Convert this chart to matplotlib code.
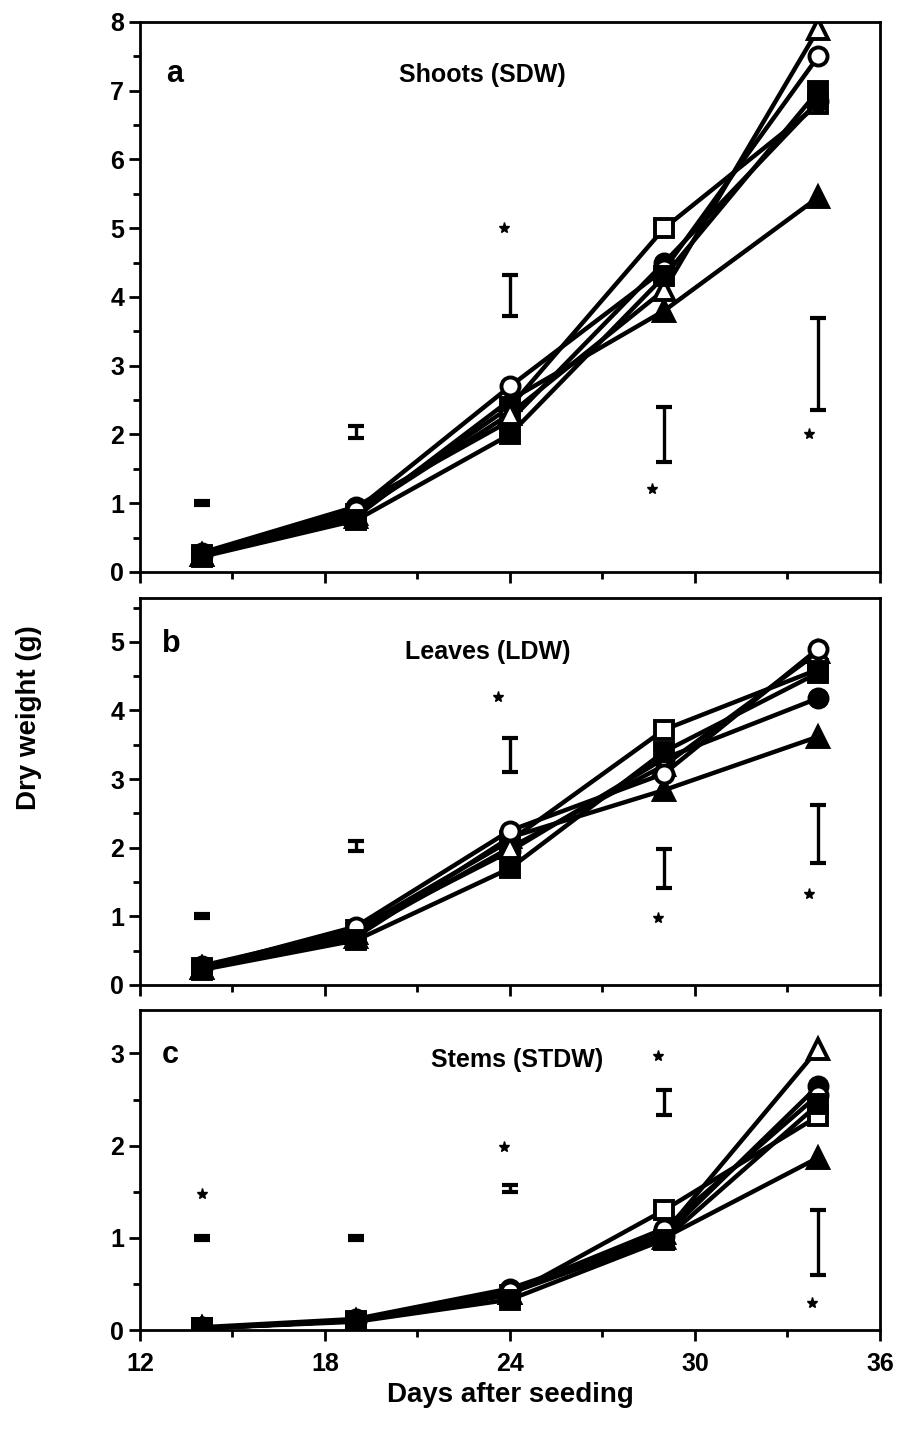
import matplotlib
matplotlib.use('Agg')
import matplotlib.pyplot as plt
import numpy as np

plt.rcParams['font.family'] = ['Liberation Sans', 'DejaVu Sans']
plt.rcParams['font.weight'] = 'bold'
plt.rcParams['axes.labelweight'] = 'bold'

days = [14, 19, 24, 29, 34]

# shoots (SDW)
shoot_open_tri = [0.25, 0.85, 2.3, 4.1, 7.9]
shoot_open_circ = [0.25, 0.9, 2.7, 4.4, 7.5]
shoot_fill_sq = [0.22, 0.75, 2.0, 4.3, 7.0]
shoot_fill_circ = [0.28, 0.95, 2.2, 4.5, 6.85]
shoot_open_sq = [0.25, 0.85, 2.4, 5.0, 6.8]
shoot_fill_tri = [0.25, 0.8, 2.5, 3.8, 5.45]
shoot_bar_lo = [0.97, 1.95, 3.72, 1.6, 2.35]
shoot_bar_hi = [1.03, 2.12, 4.32, 2.4, 3.7]
shoot_star_x = [23.8, 28.6, 33.7]
shoot_star_y = [5.0, 1.2, 2.0]

# leaves (LDW)
leaf_open_tri = [0.25, 0.75, 2.0, 3.2, 4.85]
leaf_open_circ = [0.25, 0.85, 2.25, 3.08, 4.9]
leaf_fill_sq = [0.22, 0.65, 1.7, 3.4, 4.55]
leaf_fill_circ = [0.28, 0.8, 1.95, 3.3, 4.18]
leaf_open_sq = [0.25, 0.8, 2.1, 3.72, 4.6]
leaf_fill_tri = [0.25, 0.7, 2.15, 2.84, 3.62]
leaf_bar_lo = [0.97, 1.95, 3.1, 1.42, 1.78]
leaf_bar_hi = [1.03, 2.1, 3.6, 1.98, 2.62]
leaf_star_x = [23.6, 28.8, 33.7]
leaf_star_y = [4.2, 0.98, 1.32]

# stems (STDW)
stem_open_tri = [0.02, 0.1, 0.4, 1.05, 3.05]
stem_open_circ = [0.02, 0.1, 0.42, 1.1, 2.55]
stem_fill_sq = [0.02, 0.09, 0.33, 0.98, 2.45]
stem_fill_circ = [0.03, 0.12, 0.45, 1.02, 2.65]
stem_open_sq = [0.02, 0.1, 0.38, 1.3, 2.32]
stem_fill_tri = [0.02, 0.1, 0.4, 1.0, 1.87]
stem_bar_lo = [0.98, 0.98, 1.5, 2.33, 0.6]
stem_bar_hi = [1.02, 1.02, 1.57, 2.6, 1.3]
stem_star_x = [14, 23.8, 28.8, 33.8]
stem_star_y = [1.48, 1.98, 2.97, 0.29]

fig = plt.figure(figsize=(9.02, 14.36), dpi=100)

ax_a = fig.add_axes([0.1552, 0.6017, 0.8204, 0.3830])
ax_b = fig.add_axes([0.1552, 0.3141, 0.8204, 0.2695])
ax_c = fig.add_axes([0.1552, 0.0738, 0.8204, 0.2228])


def draw_panel(ax, series, bar_lo, bar_hi, star_x, star_y):
    styles = [('s', 'white'), ('^', 'black'), ('o', 'black'),
              ('^', 'white'), ('o', 'white'), ('s', 'black')]
    for vals, (m, fc) in zip(series, styles):
        ms = 14.5 if m == '^' else 13
        ax.plot(days, vals, color='black', lw=3.2, marker=m, markersize=ms,
                markerfacecolor=fc, markeredgecolor='black', markeredgewidth=2.8)
    lo = np.array(bar_lo)
    hi = np.array(bar_hi)
    ax.errorbar(days, (lo + hi) / 2, yerr=(hi - lo) / 2, fmt='none',
                ecolor='black', elinewidth=2.4, capsize=6, capthick=3)
    ax.plot(star_x, star_y, linestyle='none', marker='*', markersize=8,
            color='black')
    ax.set_xlim(12, 36)
    ax.set_xticks([12, 18, 24, 30, 36])
    ax.set_xticks([15, 21, 27, 33], minor=True)
    for s in ax.spines.values():
        s.set_linewidth(2)
    ax.tick_params(which='major', direction='out', length=8, width=2,
                   labelsize=18)
    ax.tick_params(axis='x', which='major', pad=8)
    ax.tick_params(which='minor', direction='out', length=5, width=2)


draw_panel(ax_a, [shoot_open_sq, shoot_fill_tri, shoot_fill_circ,
                  shoot_open_tri, shoot_open_circ, shoot_fill_sq],
           shoot_bar_lo, shoot_bar_hi, shoot_star_x, shoot_star_y)
draw_panel(ax_b, [leaf_open_sq, leaf_fill_tri, leaf_fill_circ,
                  leaf_open_tri, leaf_open_circ, leaf_fill_sq],
           leaf_bar_lo, leaf_bar_hi, leaf_star_x, leaf_star_y)
draw_panel(ax_c, [stem_open_sq, stem_fill_tri, stem_fill_circ,
                  stem_open_tri, stem_open_circ, stem_fill_sq],
           stem_bar_lo, stem_bar_hi, stem_star_x, stem_star_y)

ax_a.set_ylim(0, 8)
ax_a.set_yticks(range(0, 9))
ax_a.set_yticks(np.arange(0.5, 8, 1), minor=True)
ax_b.set_ylim(0, 5.64)
ax_b.set_yticks(range(0, 6))
ax_b.set_yticks(np.arange(0.5, 5.6, 1), minor=True)
ax_c.set_ylim(0, 3.47)
ax_c.set_yticks(range(0, 4))
ax_c.set_yticks(np.arange(0.5, 3.5, 1), minor=True)

ax_a.tick_params(labelbottom=False)
ax_b.tick_params(labelbottom=False)

ax_a.text(0.035, 0.905, 'a', transform=ax_a.transAxes, fontsize=22, va='center')
ax_a.text(0.463, 0.903, 'Shoots (SDW)', transform=ax_a.transAxes, fontsize=18,
          ha='center', va='center')
ax_b.text(0.03, 0.88, 'b', transform=ax_b.transAxes, fontsize=22, va='center')
ax_b.text(0.47, 0.86, 'Leaves (LDW)', transform=ax_b.transAxes, fontsize=18,
          ha='center', va='center')
ax_c.text(0.03, 0.86, 'c', transform=ax_c.transAxes, fontsize=22, va='center')
ax_c.text(0.51, 0.845, 'Stems (STDW)', transform=ax_c.transAxes, fontsize=18,
          ha='center', va='center')

ax_c.set_xlabel('Days after seeding', fontsize=20, labelpad=4)
fig.text(0.032, 0.5, 'Dry weight (g)', rotation=90, fontsize=20,
         ha='center', va='center')

fig.savefig('out.png', dpi=100)
